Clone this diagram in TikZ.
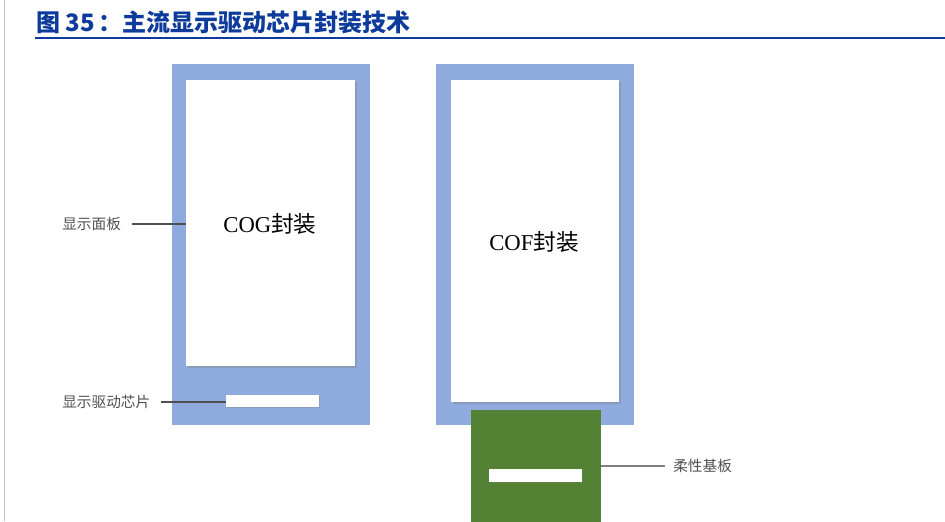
\documentclass[tikz,border=0pt]{standalone}
\usepackage{fontspec}
\setmainfont{Liberation Serif}
\newfontfamily\cjk{Noto Sans CJK SC}
\usetikzlibrary{shadows}
\definecolor{panelblue}{HTML}{8FAADC}
\definecolor{flexgreen}{HTML}{548235}
\definecolor{titleblue}{HTML}{0D3B9B}
\definecolor{labelgray}{HTML}{505050}
\begin{document}
\begin{tikzpicture}[x=0.75pt,y=-0.75pt]
\tikzset{
  panel/.style={fill=panelblue, inner sep=0pt},
  screen/.style={fill=white, inner sep=0pt, drop shadow={shadow xshift=1.5pt, shadow yshift=-1.5pt, opacity=0.35}},
  chip/.style={fill=white, inner sep=0pt, drop shadow={shadow xshift=1pt, shadow yshift=-1pt, opacity=0.3}},
  tag/.style={text=labelgray, font=\cjk\fontsize{11}{13}\selectfont, inner sep=0pt},
  lead/.style={draw=labelgray, line width=1pt}
}
\useasboundingbox (0,0) rectangle (945,521);

% title
\draw [gray!45, line width=0.8pt] (4.5,0) -- (4.5,521);
\node [anchor=west, inner sep=0pt, text=titleblue, font=\cjk\bfseries\fontsize{18}{21}\selectfont] (title) at (36,22) {图 35\,：主流显示驱动芯片封装技术};
\draw [titleblue, line width=2pt] (35,38) -- (945,38);

% COG
\node [panel, minimum width=148.5pt, minimum height=270.75pt] (cogpanel) at (271,244.5) {};
\node [screen, minimum width=126.75pt, minimum height=214.5pt] (cogscreen) at (270.5,223) {};
\node [font=\fontsize{17}{19}\selectfont] (coglabel) at (270,224) {COG{\cjk 封装}};
\node [chip, minimum width=69.75pt, minimum height=9pt] (cogchip) at (272.5,401) {};

% COF
\node [panel, minimum width=148.5pt, minimum height=270.75pt] (cofpanel) at (535,244.5) {};
\node [screen, minimum width=126pt, minimum height=241.5pt] (cofscreen) at (535,241) {};
\node [font=\fontsize{17}{19}\selectfont] (coflabel) at (534,242) {COF{\cjk 封装}};
\node [fill=flexgreen, inner sep=0pt, minimum width=97.5pt, minimum height=90pt] (flex) at (536,470) {};
\node [chip, minimum width=69.75pt, minimum height=9.75pt] (cofchip) at (535.5,475.5) {};

% labels
\node [tag, anchor=west] (paneltag) at (62,224) {显示面板};
\node [tag, anchor=west] (chiptag) at (62,402) {显示驱动芯片};
\node [tag, anchor=west] (flextag) at (673,466) {柔性基板};

\draw [lead] ([xshift=8pt]paneltag.east) -- (cogscreen.west |- paneltag.east);
\draw [lead] ([xshift=8pt]chiptag.east) -- (cogchip.west |- chiptag.east);
\draw [lead, draw=gray] (flex.east |- flextag.west) -- ([xshift=-6pt]flextag.west);
\end{tikzpicture}
\end{document}
